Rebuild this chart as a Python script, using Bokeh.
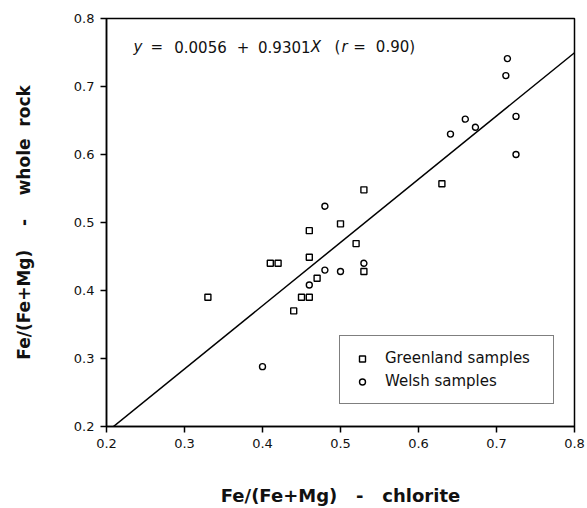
from bokeh.plotting import figure
from bokeh.models import Range1d, FixedTicker, Label, Legend, LegendItem
from bokeh.embed import file_html
from bokeh.resources import INLINE

# ---- data ----
greenland_x = [0.33, 0.41, 0.42, 0.46, 0.46, 0.50, 0.52, 0.53, 0.47, 0.45, 0.46, 0.44, 0.53, 0.63]
greenland_y = [0.39, 0.44, 0.44, 0.488, 0.449, 0.498, 0.469, 0.428, 0.418, 0.39, 0.39, 0.37, 0.548, 0.557]
welsh_x = [0.48, 0.53, 0.48, 0.50, 0.46, 0.40, 0.714, 0.712, 0.725, 0.725, 0.66, 0.673, 0.641]
welsh_y = [0.524, 0.44, 0.43, 0.428, 0.408, 0.288, 0.741, 0.716, 0.656, 0.60, 0.652, 0.640, 0.630]

fit_intercept = 0.0056
fit_slope = 0.9301
fit_x = [0.2, 0.8]
fit_y = [fit_intercept + fit_slope * v for v in fit_x]

tick_vals = [0.2, 0.3, 0.4, 0.5, 0.6, 0.7, 0.8]
tick_labels = ["0.2", "0.3", "0.4", "0.5", "0.6", "0.7", "0.8"]

x_title = "Fe/(Fe+Mg) \u00a0 - \u00a0 chlorite"
y_title = "Fe/(Fe+Mg) \u00a0\u00a0 - \u00a0\u00a0 whole \u00a0rock"

# ---- layout helpers (annotation placement only) ----
FL, FR, FT, FB = 106, 574, 18, 426
X0, X1, Y0, Y1 = 0.2, 0.8, 0.2, 0.8
def sx(px):
    return X0 + (px - FL) * (X1 - X0) / (FR - FL)
def sy(py):
    return Y0 + (FB - py) * (Y1 - Y0) / (FB - FT)

p = figure(width=587, height=508, x_range=Range1d(X0, X1), y_range=Range1d(Y0, Y1),
           output_backend="svg", toolbar_location=None,
           min_border_left=FL, min_border_right=587 - FR, min_border_top=FT,
           min_border_bottom=508 - FB)
p.background_fill_color = "white"
p.border_fill_color = "white"
p.outline_line_color = "black"
p.outline_line_width = 1.5
p.grid.visible = False

for ax in (p.xaxis, p.yaxis):
    ax.ticker = FixedTicker(ticks=tick_vals)
    ax.major_label_overrides = {v: l for v, l in zip(tick_vals, tick_labels)}
    ax.axis_line_color = "black"
    ax.axis_line_width = 1.5
    ax.major_tick_line_color = "black"
    ax.major_tick_line_width = 1.5
    ax.major_tick_out = 6
    ax.major_tick_in = 0
    ax.minor_tick_out = 0
    ax.minor_tick_in = 0
    ax.major_label_text_font = "DejaVu Sans"
    ax.major_label_text_font_size = "13px"
    ax.major_label_text_color = "#111111"
    ax.major_label_standoff = 6
    ax.axis_label_text_font = "DejaVu Sans"
    ax.axis_label_text_font_style = "bold"
    ax.axis_label_text_color = "#111111"

p.xaxis.axis_label = x_title
p.xaxis.axis_label_text_font_size = "18px"
p.xaxis.axis_label_standoff = 34
p.yaxis.axis_label = y_title
p.yaxis.axis_label_text_font_size = "17px"
p.yaxis.axis_label_standoff = 37

# regression line
p.line(fit_x, fit_y, line_color="black", line_width=1.5)

r_g = p.scatter(greenland_x, greenland_y, marker="square", size=6,
                fill_color="white", line_color="black", line_width=1.4)
r_w = p.scatter(welsh_x, welsh_y, marker="circle", size=6,
                fill_color="white", line_color="black", line_width=1.4)

legend = Legend(items=[LegendItem(label="Greenland samples", renderers=[r_g]),
                       LegendItem(label="Welsh samples", renderers=[r_w])],
                location=(233, 22), margin=0, padding=12, spacing=3,
                glyph_width=20, glyph_height=15, label_height=20, label_width=156,
                label_standoff=13, border_line_color="black", border_line_width=1.5,
                background_fill_color="white", background_fill_alpha=1.0,
                label_text_font="DejaVu Sans", label_text_font_size="15px",
                label_text_color="#111111")
p.add_layout(legend)

# equation
eq_parts = [("y", 137.5, "italic"), ("=", 156.3, "normal"), ("0.0056", 200, "normal"),
            ("+", 242.5, "normal"), ("0.9301", 283.8, "normal"), ("X", 315.5, "italic"),
            ("(", 337.0, "normal"), ("r", 344.0, "italic"), ("=", 359.0, "normal"),
            ("0.90)", 395.0, "normal")]
for txt, cx, style in eq_parts:
    p.add_layout(Label(x=sx(cx), y=sy(46), text=txt, text_align="center",
                       text_baseline="alphabetic", text_font="DejaVu Sans",
                       text_font_size="15px", text_font_style=style,
                       text_color="#111111"))

open("out.html", "w").write(file_html(p, INLINE))
